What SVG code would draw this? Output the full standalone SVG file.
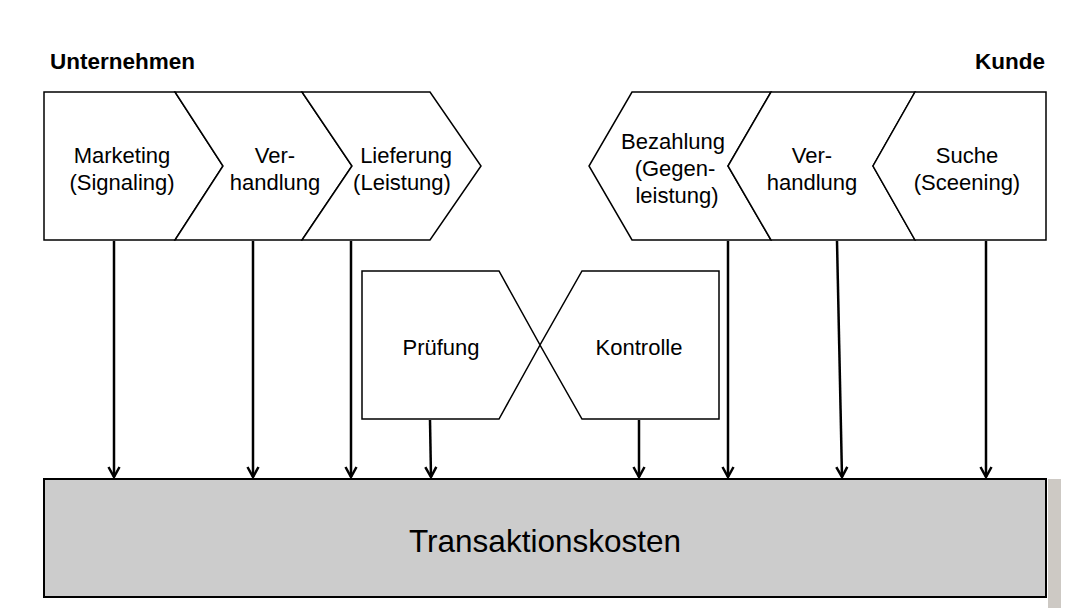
<svg xmlns="http://www.w3.org/2000/svg" width="1071" height="608" viewBox="0 0 1071 608">
<style>
.shape{fill:#fff;stroke:#000;stroke-width:1.5;stroke-linejoin:miter}
.t{font-family:"Liberation Sans",Arial,sans-serif;font-size:22px;fill:#000;text-anchor:middle}
.h{font-family:"Liberation Sans",Arial,sans-serif;font-size:22.5px;font-weight:bold;fill:#000}
.c{stroke:#000;stroke-width:2.5;fill:none}
</style>
<defs>
<marker id="arr" markerUnits="userSpaceOnUse" markerWidth="14" markerHeight="14" viewBox="-12 -7 14 14" refX="0" refY="0" orient="auto">
<path d="M-10,-5.5 L0,0 L-10,5.5" fill="none" stroke="#000" stroke-width="2.5"/>
</marker>
</defs>
<rect width="1071" height="608" fill="#fff"/>
<rect x="1048" y="479" width="13" height="129" fill="#cdc9c4"/>
<text class="h" x="50" y="69">Unternehmen</text>
<text class="h" x="1045" y="69" text-anchor="end">Kunde</text>
<g id="marketing"><polygon class="shape" points="44,92 175,92 223,166 175,240 44,240"/><text class="t" x="122" y="163">Marketing</text><text class="t" x="122" y="190">(Signaling)</text></g>
<g id="verhandlung1"><polygon class="shape" points="175,92 302,92 352,166 302,240 175,240 223,166"/><text class="t" x="275" y="163">Ver-</text><text class="t" x="275" y="190">handlung</text></g>
<g id="lieferung"><polygon class="shape" points="302,92 430,92 481,166 430,240 302,240 352,166"/><text class="t" x="406" y="163">Lieferung</text><text class="t" x="402" y="190">(Leistung)</text></g>
<g id="bezahlung"><polygon class="shape" points="632,92 771,92 728,166 771,240 632,240 589,166"/><text class="t" x="673" y="149">Bezahlung</text><text class="t" x="675" y="176">(Gegen-</text><text class="t" x="677" y="203">leistung)</text></g>
<g id="verhandlung2"><polygon class="shape" points="771,92 915,92 873,166 915,240 771,240 728,166"/><text class="t" x="812" y="163">Ver-</text><text class="t" x="812" y="190">handlung</text></g>
<g id="suche"><polygon class="shape" points="915,92 1046,92 1046,240 915,240 873,166"/><text class="t" x="967" y="163">Suche</text><text class="t" x="967" y="190">(Sceening)</text></g>
<g id="pruefung"><polygon class="shape" points="362,271 499,271 540,345 499,419 362,419"/><text class="t" x="441" y="355">Prüfung</text></g>
<g id="kontrolle"><polygon class="shape" points="582,271 719,271 719,419 582,419 540,345"/><text class="t" x="639" y="355">Kontrolle</text></g>
<g id="transaktionskosten"><rect x="44" y="479" width="1002" height="118" fill="#cccccc" stroke="#000" stroke-width="2"/><text class="t" x="545" y="552" style="font-size:31.5px">Transaktionskosten</text></g>
<g id="connectors">
<line class="c" x1="114" y1="241" x2="114" y2="477" marker-end="url(#arr)"/>
<line class="c" x1="253" y1="241" x2="253" y2="477" marker-end="url(#arr)"/>
<line class="c" x1="351" y1="241" x2="351" y2="477" marker-end="url(#arr)"/>
<line class="c" x1="430" y1="420" x2="431" y2="477" marker-end="url(#arr)"/>
<line class="c" x1="639" y1="420" x2="639" y2="477" marker-end="url(#arr)"/>
<line class="c" x1="728" y1="241" x2="728" y2="477" marker-end="url(#arr)"/>
<line class="c" x1="837" y1="241" x2="842" y2="477" marker-end="url(#arr)"/>
<line class="c" x1="986" y1="241" x2="986" y2="477" marker-end="url(#arr)"/>
</g>
</svg>
